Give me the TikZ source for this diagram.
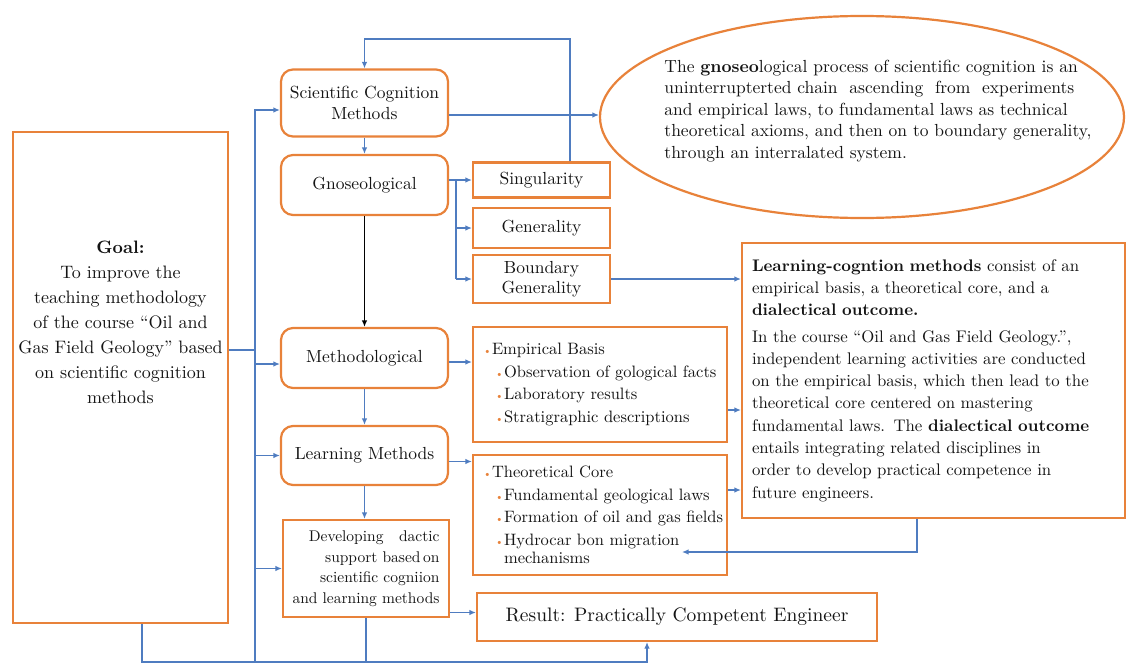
\documentclass[tikz,border=0pt]{standalone}
\usepackage{fontspec}
\setmainfont{lmroman10}[Extension=.otf, UprightFont=*-regular, BoldFont=*-bold, ItalicFont=*-italic]
\usepackage{tikz}
\usetikzlibrary{arrows.meta, calc}
\usetikzlibrary{shapes.geometric}
\definecolor{borange}{HTML}{E8823A}
\definecolor{lblue}{HTML}{4F7CC0}
\definecolor{txtgray}{HTML}{141414}
\newcommand{\obul}{\makebox[9pt][l]{\textcolor{borange}{\fontsize{11}{11}\selectfont\textbullet}}}
\tikzset{
  rbox/.style = {rectangle, rounded corners=12pt, draw=borange, line width=2.2pt, align=center, text=txtgray, inner sep=4pt},
  sqbox/.style = {rectangle, draw=borange, line width=2.2pt, align=center, text=txtgray, inner sep=4pt},
  ovalbox/.style = {ellipse, draw=borange, line width=2.2pt, inner sep=0pt},
  conn/.style = {draw=lblue, line width=1.2pt, -{Latex[length=6.5pt,width=5.5pt]}},
  wire/.style = {draw=lblue, line width=1.2pt},
  goalf/.style = {font=\fontsize{18}{25}\selectfont},
  boxf/.style = {font=\fontsize{17.5}{21}\selectfont},
  listf/.style = {font=\fontsize{16.5}{22.5}\selectfont},
  parf/.style = {font=\fontsize{16.8}{22.3}\selectfont},
  ovalf/.style = {font=\fontsize{17.5}{21.5}\selectfont},
  devf/.style = {font=\fontsize{15.5}{20.5}\selectfont},
  resf/.style = {font=\fontsize{19.5}{23}\selectfont}
}

\begin{document}
\begin{tikzpicture}[x=1pt, y=-1pt]
    \fill[white] (0,0) rectangle (1127,669);
    \useasboundingbox (0,0) rectangle (1127,669);

    \node[sqbox, minimum width=215pt, minimum height=491pt] (goal) at (120.5,377.5) {};
    \node[goalf, align=center, text=txtgray] (goaltxt) at (120.5,322) {\textbf{Goal:}\\To improve the\\teaching methodology\\of the course “Oil and\\Gas Field Geology” based\\on scientific cognition\\methods};

    \node[rbox, boxf, minimum width=167pt, minimum height=67pt] (scm) at (364.5,103) {Scientific Cognition\\Methods};
    \node[rbox, boxf, minimum width=167pt, minimum height=60pt] (gno) at (364.5,185) {Gnoseological};
    \node[rbox, boxf, minimum width=167pt, minimum height=60pt] (meth) at (364.5,358) {Methodological};
    \node[rbox, boxf, minimum width=167pt, minimum height=59pt] (lmeth) at (364.5,455.5) {Learning Methods};
    \node[sqbox, devf, minimum width=166pt, minimum height=97pt, align=right] (dev) at (366,568.5) {Developing\quad dactic\\support based\,on\\scientific cogniion\\and learning methods};

    \node[sqbox, boxf, minimum width=137pt, minimum height=35pt] (sing) at (541.5,180) {Singularity};
    \node[sqbox, boxf, minimum width=137pt, minimum height=40pt] (gen) at (541.5,228) {Generality};
    \node[sqbox, font=\fontsize{17.5}{20}\selectfont, minimum width=137pt, minimum height=48pt] (bnd) at (541.5,279) {Boundary\\Generality};

    \node[sqbox, listf, text width=234pt, inner xsep=10pt, align=left, minimum height=115pt] (emp) at (600,384.5) {\obul Empirical Basis\\
        \hspace*{12pt}\obul Observation of gological facts\\
        \hspace*{12pt}\obul Laboratory results\\
        \hspace*{12pt}\obul Stratigraphic descriptions};
    \node[sqbox, listf, text width=234pt, inner xsep=10pt, align=left, minimum height=120pt] (theo) at (600,515) {\obul Theoretical Core\\
        \hspace*{12pt}\obul Fundamental geological laws\\
        \mbox{\hspace*{12pt}\obul Formation of oil and gas fields}\\
        \hspace*{12pt}\obul Hydrocar bon migration\\[-4pt]
        \hspace*{21pt}mechanisms};
    \node[sqbox, resf, minimum width=400pt, minimum height=48pt] (res) at (677,617) {Result: Practically Competent Engineer};

    \node[ovalbox, minimum width=524pt, minimum height=202pt] (oval) at (862,117) {};
    \node[ovalf, align=left, text=txtgray] (ovaltxt) at (878,111) {The \textbf{gnoseo}logical process of scientific cognition is an\\
        uninterrupterted chain \ ascending \ from \ experiments\\
        and empirical laws, to fundamental laws as technical\\
        theoretical axioms, and then on to boundary generality,\\
        through an interralated system.};

    \node[sqbox, parf, text width=363pt, inner xsep=10pt, align=left, minimum height=275pt] (lrn) at (933.5,380.5) {\textbf{Learning-cogntion methods} consist of an\\
        empirical basis, a theoretical core, and a\\
        \textbf{dialectical outcome.}\\[4pt]
        In the course “Oil and Gas Field Geology.”,\\
        independent learning activities are conducted\\
        on the empirical basis, which then lead to the\\
        theoretical core centered on mastering\\
        fundamental laws. The \textbf{dialectical outcome}\\
        entails integrating related disciplines in\\
        order to develop practical competence in\\
        future engineers.};

    \coordinate (bot) at (255,662);
    \coordinate (fb) at (570,39);
    \coordinate (br) at (456,180);
    \coordinate (hyd) at (682,552);

    \draw[conn] (sing.north -| fb) -- (fb) -| (scm.north);
    \draw[conn] ([yshift=-12pt]scm.east) -- ([yshift=-12pt]scm.east -| oval.west);
    \draw[conn] (scm) -- (gno);
    \draw[conn, draw=black] (gno) -- (meth);
    \draw[conn] (meth) -- (lmeth);
    \draw[conn] (lmeth) -- (lmeth |- dev.north);

    \draw[wire] ([yshift=5pt]gno.east) -- (br) -- (br |- bnd.west);
    \draw[conn] (br) -- (sing.west);
    \draw[conn] (br |- gen.west) -- (gen.west);
    \draw[conn] (br |- bnd.west) -- (bnd.west);
    \draw[conn] (bnd.east) -- (bnd.east -| lrn.west);

    \draw[conn] ([yshift=-4pt]meth.east) -- ([yshift=-4pt]meth.east -| emp.west);
    \draw[conn] ([yshift=-6pt]lmeth.east) -- ([yshift=-6pt]lmeth.east -| theo.west);
    \draw[conn] ([yshift=-25.5pt]emp.east) -- ([yshift=-25.5pt]emp.east -| lrn.west);
    \draw[conn] ([yshift=25pt]theo.east) -- ([yshift=25pt]theo.east -| lrn.west);
    \draw[conn] ([xshift=-16.5pt]lrn.south) |- (hyd);
    \draw[conn] ([yshift=-44pt]dev.east) -- ([yshift=-44pt]dev.east -| res.west);

    \draw[conn] (bot) |- ([yshift=-7pt]scm.west);
    \draw[wire] ([yshift=27.5pt]goal.east) -- ([yshift=27.5pt]goal.east -| bot);
    \draw[conn] ([yshift=-6pt]bot |- meth.west) -- ([yshift=-6pt]meth.west);
    \draw[conn] (bot |- lmeth.west) -- (lmeth.west);
    \draw[conn] (bot |- dev.west) -- (dev.west);
    \draw[conn] ([xshift=21.5pt]goal.south) |- (bot) -| ([xshift=-30pt]res.south);
    \draw[wire] (dev.south) -- (dev.south |- bot);
\end{tikzpicture}
\end{document}
